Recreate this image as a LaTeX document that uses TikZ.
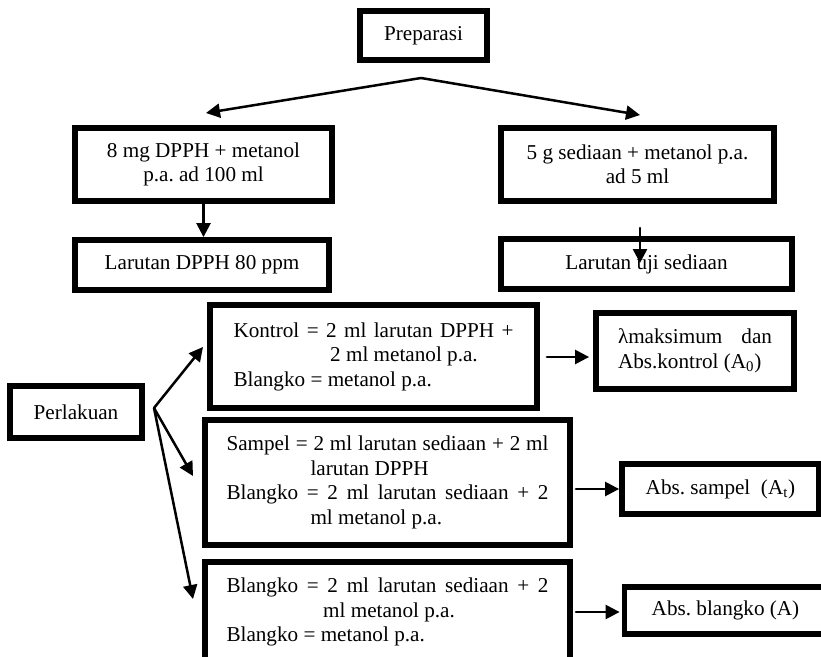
\documentclass[tikz,border=0pt]{standalone}
\usepackage{fontspec}
\setmainfont{Liberation Serif}
\usetikzlibrary{arrows.meta,calc}
\frenchspacing

\begin{document}
\begin{tikzpicture}[x=0.6pt,y=-0.6pt, font=\fontsize{12.7}{14.7}\selectfont, line cap=round,
		>={Triangle[length=8.4pt,width=8.4pt]},
		box/.style={draw,line width=3.5pt,line join=miter,inner sep=0pt,align=center},
		arr/.style={->,line width=1.5pt}]
			\def\lw{193.2pt} % lebar baris sampel/blangko
			\def\ind{58pt} \def\indS{50.4pt}
			\useasboundingbox (0,0) rectangle (821,656);
			% preparasi
			\node[box,minimum width=76.2pt,minimum height=29.4pt] (prep) at (423.5,35.5) {Preparasi};
			\node[box,minimum width=154.2pt,minimum height=43.8pt] (dpph) at (203.5,164.5) {8 mg DPPH + metanol\\p.a. ad 100 ml};
			\node[box,minimum width=163.8pt,minimum height=43.8pt] (sed) at (637.5,164.5) {5 g sediaan + metanol p.a.\\ad 5 ml};
			\node[box,minimum width=152.4pt,minimum height=30pt] (lardpph) at (202,265) {Larutan DPPH 80 ppm};
			\node[box,minimum width=174.6pt,minimum height=30pt] (laruji) at (646.5,264) {Larutan uji sediaan};
			% perlakuan
			\node[box,minimum width=79.2pt,minimum height=31.2pt] (perlakuan) at (76,412) {Perlakuan};
			\node[box,align=left,minimum width=196.2pt,minimum height=61.8pt] (kontrol) at (373.5,356.5)
				{\makebox[168pt][s]{Kontrol = 2 ml larutan DPPH +}\\\hspace*{\ind}2 ml metanol p.a.\\Blangko = metanol p.a.};
			\node[box,align=left,minimum width=118.8pt,minimum height=45.6pt] (lamda) at (695,351)
				{\makebox[92.4pt][s]{λmaksimum dan}\\Abs.kontrol (A\textsubscript{0})};
			\node[box,align=left,minimum width=219pt,minimum height=75pt] (sampel) at (387.5,482.5)
				{\makebox[\lw][s]{Sampel = 2 ml larutan sediaan + 2 ml}\\\hspace*{\indS}larutan DPPH\\
				 \makebox[\lw][s]{Blangko = 2 ml larutan sediaan + 2}\\\hspace*{\indS}ml metanol p.a.};
			\node[box,align=left,minimum width=219pt,minimum height=60pt] (blangko) at (387.5,612)
				{\makebox[\lw][s]{Blangko = 2 ml larutan sediaan + 2}\\\hspace*{\ind}ml metanol p.a.\\Blangko = metanol p.a.};
			\node[box,minimum width=118.2pt,minimum height=30pt] (abssampel) at (720.5,489) {Abs. sampel\ \ (A\textsubscript{t})};
			\node[box,minimum width=121.2pt,minimum height=28.2pt] (absblangko) at (725.5,610.5) {Abs. blangko (A)};
			% panah
			\coordinate (split) at (421,78);
			\coordinate (keDPPH) at (206,113);
			\coordinate (keSed) at (640,115);
			\draw[arr] (split) -- (keDPPH);
			\draw[arr] (split) -- (keSed);
			\draw[arr] (dpph.south) -- (dpph.south |- lardpph.north);
			\coordinate (ujiA) at (640,228);
			\coordinate (ujiB) at (640,263);
			\draw[arr] (ujiA) -- (ujiB);
			\coordinate (cabang) at (154,408);
			\coordinate (keK) at (203,347);
			\coordinate (keS) at (193,476);
			\coordinate (keB) at (193,599);
			\draw[arr] (cabang) -- (keK);
			\draw[arr] (cabang) -- (keS);
			\draw[arr] (cabang) -- (keB);
			\draw[arr] ($(kontrol.east)+(7,0.5)$) -- ($(lamda.west |- kontrol.east)+(-4,0.5)$);
			\draw[arr] ($(abssampel.west -| sampel.east)+(3,0)$) -- (abssampel.west);
			\draw[arr] ($(absblangko.west -| blangko.east)+(3,1.5)$) -- ($(absblangko.west)+(-2,1.5)$);
		\end{tikzpicture}
\end{document}
